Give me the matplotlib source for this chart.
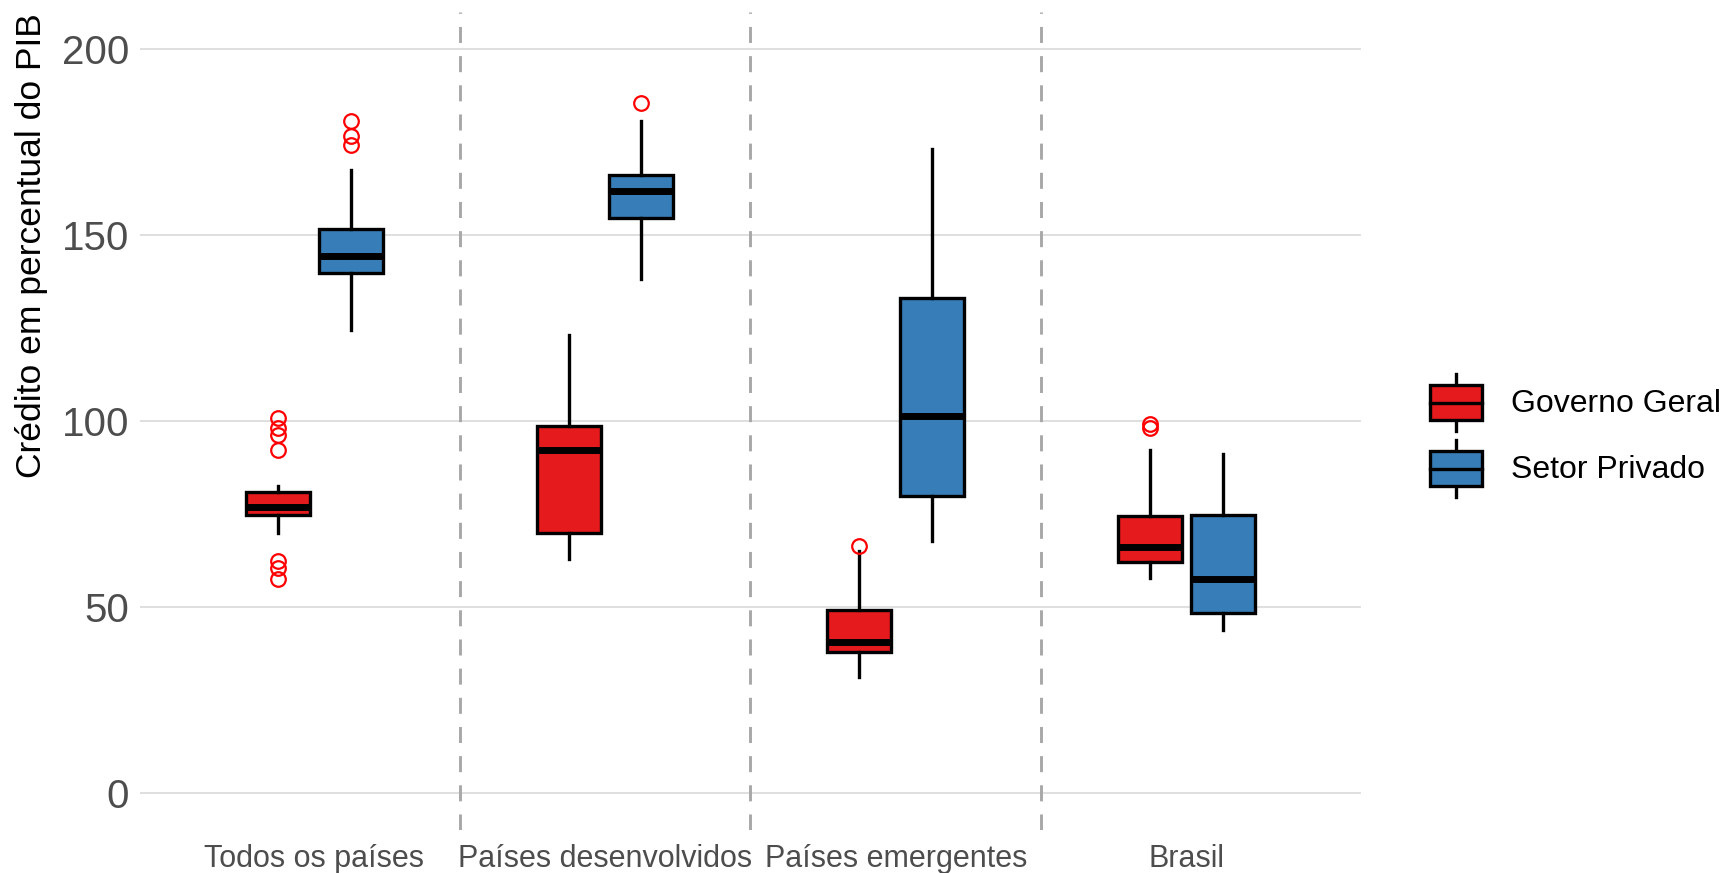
import matplotlib
matplotlib.use('Agg')
import matplotlib.pyplot as plt
from matplotlib.legend_handler import HandlerBase
from matplotlib.patches import Rectangle, Patch
from matplotlib.lines import Line2D

plt.rcParams['font.family'] = ['Liberation Sans', 'DejaVu Sans']

grupos = ['Todos os países', 'Países desenvolvidos', 'Países emergentes', 'Brasil']
series = ['Governo Geral', 'Setor Privado']
cores = ['#E41A1C', '#377EB8']

# Governo Geral: quartis, mediana, bigodes e outliers por grupo
gov_q1 = [74.8, 70.0, 38.0, 62.0]
gov_med = [77.0, 92.3, 40.7, 66.2]
gov_q3 = [81.0, 98.8, 49.3, 74.5]
gov_lo = [70.0, 62.9, 31.2, 57.9]
gov_hi = [82.5, 123.1, 65.0, 92.3]
gov_out = [[100.9, 98.2, 96.4, 92.3, 62.3, 60.5, 57.6], [], [66.5], [99.1, 98.2]]

# Setor Privado
priv_q1 = [139.8, 154.6, 79.8, 48.4]
priv_med = [144.5, 162.0, 101.5, 57.6]
priv_q3 = [151.6, 166.2, 133.2, 74.8]
priv_lo = [124.6, 138.3, 67.7, 43.9]
priv_hi = [167.7, 180.7, 173.3, 91.1]
priv_out = [[180.7, 176.6, 174.2], [185.5], [], []]

yticks = [0, 50, 100, 150, 200]

LW = 2.4


def make_stats(q1, med, q3, lo, hi, out):
    return [dict(q1=a, med=b, q3=c, whislo=d, whishi=e, fliers=f)
            for a, b, c, d, e, f in zip(q1, med, q3, lo, hi, out)]


class BoxKey(HandlerBase):
    # chave da legenda no formato de boxplot
    def create_artists(self, legend, orig_handle, xdescent, ydescent,
                       width, height, fontsize, trans):
        x0, y0 = -xdescent, -ydescent
        xc = x0 + width / 2
        b0, b1 = y0 + 0.2 * height, y0 + 0.8 * height
        box = Rectangle((x0, b0), width, b1 - b0, facecolor=orig_handle.get_facecolor(),
                        edgecolor='black', lw=LW, transform=trans)
        med = Line2D([x0, x0 + width], [(b0 + b1) / 2] * 2, color='black', lw=LW, transform=trans)
        w1 = Line2D([xc, xc], [y0, b0], color='black', lw=LW, transform=trans)
        w2 = Line2D([xc, xc], [b1, y0 + height], color='black', lw=LW, transform=trans)
        return [w1, w2, box, med]


fig = plt.figure(figsize=(17.29, 8.73), dpi=100)
ax = fig.add_axes([0.081, 0.0493, 0.706, 0.9366])

stats = [make_stats(gov_q1, gov_med, gov_q3, gov_lo, gov_hi, gov_out),
         make_stats(priv_q1, priv_med, priv_q3, priv_lo, priv_hi, priv_out)]
offsets = [-0.125, 0.125]

for st, off, cor in zip(stats, offsets, cores):
    pos = [i + 1 + off for i in range(len(grupos))]
    ax.bxp(st, positions=pos, widths=0.22, patch_artist=True, showcaps=False,
           boxprops=dict(facecolor=cor, edgecolor='black', lw=LW),
           medianprops=dict(color='black', lw=5, solid_capstyle='butt'),
           whiskerprops=dict(color='black', lw=LW),
           flierprops=dict(marker='o', markerfacecolor='none', markeredgecolor='red',
                           markersize=10.5, markeredgewidth=1.6),
           zorder=3)

for xv in [1.5, 2.5, 3.5]:
    ax.axvline(xv, color='#A8A8A8', lw=2.1, dashes=(5.5, 4.5), zorder=2)

ax.set_xlim(0.4, 4.6)
ax.set_ylim(-10, 210)
ax.set_yticks(yticks)
ax.set_xticks(range(1, len(grupos) + 1))
ax.set_xticklabels(grupos)
ax.yaxis.grid(True, color='#DCDCDC', lw=1.3, zorder=0)
ax.set_axisbelow(True)
for s in ax.spines.values():
    s.set_visible(False)
ax.tick_params(axis='y', length=0, labelsize=29, labelcolor='#4D4D4D', pad=8)
ax.tick_params(axis='x', length=0, labelsize=22, labelcolor='#4D4D4D', pad=10)
ax.set_ylabel('Crédito em percentual do PIB', fontsize=25.5)
ax.yaxis.set_label_coords(-0.0755, 0.715)

handles = [Patch(facecolor=c) for c in cores]
fig.legend(handles, series, handler_map={Patch: BoxKey()}, loc='center left',
           bbox_to_anchor=(0.818, 0.501), frameon=False, fontsize=23,
           handlelength=1.63, handleheight=2.39, labelspacing=0.27,
           handletextpad=0.9, borderpad=0)

fig.savefig('out.png', dpi=100)
